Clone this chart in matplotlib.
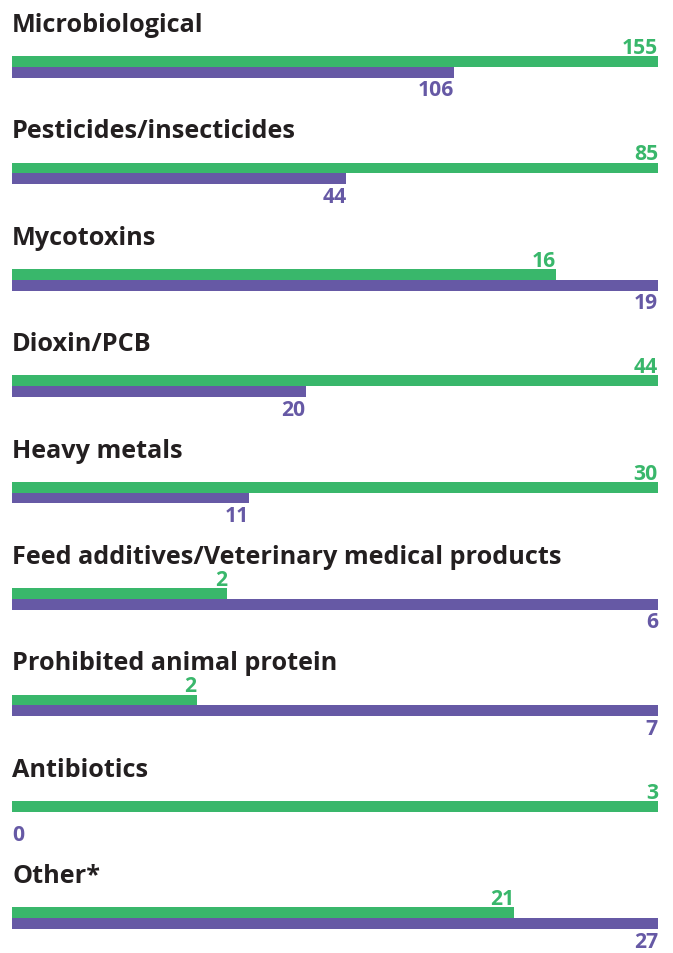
import matplotlib
matplotlib.use("Agg")
import matplotlib.pyplot as plt

categories = ["Microbiological", "Pesticides/insecticides", "Mycotoxins", "Dioxin/PCB",
              "Heavy metals", "Feed additives/Veterinary medical products",
              "Prohibited animal protein", "Antibiotics", "Other*"]
green_values = [155, 85, 16, 44, 30, 2, 2, 3, 21]
purple_values = [106, 44, 19, 20, 11, 6, 7, 0, 27]

GREEN = "#39B76B"
PURPLE = "#6659A5"
DARK = "#231F20"

W, H = 673, 954
fig = plt.figure(figsize=(W / 100, H / 100), dpi=100)
x0, x1 = 12, 658
ax = fig.add_axes([x0 / W, 0, (x1 - x0) / W, 1])
step = 106.4
base0 = 32.0
ax.set_xlim(0, 1)
ax.set_ylim((H - base0) / step, -base0 / step)
ax.axis("off")

FONT = "Open Sans"
bar_h = 10.8 / step
g_off = 30.65 / step
p_off = 41.45 / step
gl_off = 22.0 / step
pl_off = 64.5 / step

for i, (cat, g, p) in enumerate(zip(categories, green_values, purple_values)):
    m = max(g, p)
    gf, pf = g / m, p / m
    ax.text(0, i, cat, ha="left", va="baseline", fontsize=18.2, fontweight="bold",
            color=DARK, family=FONT)
    ax.barh(i + g_off, gf, height=bar_h, left=0, color=GREEN, linewidth=0)
    ax.barh(i + p_off, pf, height=bar_h, left=0, color=PURPLE, linewidth=0)
    ax.text(gf if gf > 0.05 else 0, i + gl_off, str(g), ha="right" if gf > 0.05 else "left",
            va="baseline", fontsize=15.2, fontweight="bold", color=GREEN, family=FONT)
    ax.text(pf if pf > 0.05 else 0, i + pl_off, str(p), ha="right" if pf > 0.05 else "left",
            va="baseline", fontsize=15.2, fontweight="bold", color=PURPLE, family=FONT)

fig.savefig("out.png", dpi=100, facecolor="white")
